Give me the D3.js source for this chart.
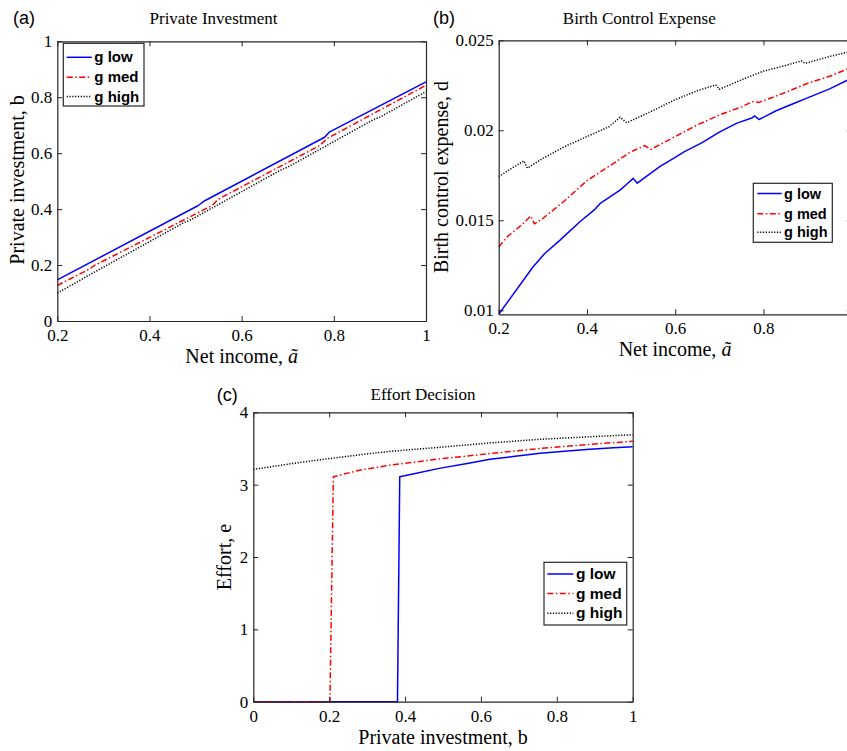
<!DOCTYPE html>
<html>
<head>
<meta charset="utf-8">
<script src="https://cdn.jsdelivr.net/npm/d3@7"></script>
<style>
  html, body { margin: 0; padding: 0; background: #fff; }
  svg { display: block; }
  .ax text { font-family: 'Liberation Serif', 'Times New Roman', serif; font-size: 17px; fill: #000; }
</style>
</head>
<body>
<svg id="chart" width="847" height="751"></svg>
<script>
// ---------------- DATA ----------------
const seriesNames = ["g low", "g med", "g high"];

// (a) Private investment vs net income
const aLowX  = [0.2, 0.505, 0.52, 0.78, 0.79, 1.0];
const aLowY  = [0.147, 0.412, 0.430, 0.657, 0.675, 0.855];
const aMedX  = [0.2, 0.27, 0.28, 0.535, 0.55, 0.77, 0.785, 1.0];
const aMedY  = [0.127, 0.186, 0.198, 0.412, 0.436, 0.628, 0.652, 0.843];
const aHighX = [0.2, 0.25, 0.26, 0.475, 0.49, 0.685, 0.70, 0.885, 0.90, 1.0];
const aHighY = [0.100, 0.146, 0.156, 0.352, 0.362, 0.540, 0.550, 0.719, 0.729, 0.820];

// (b) Birth control expense vs net income
const bLowX  = [0.2, 0.278, 0.305, 0.339, 0.384, 0.418, 0.43, 0.475, 0.49, 0.505, 0.514, 0.565, 0.6, 0.62, 0.66, 0.7, 0.74, 0.775, 0.78, 0.79, 0.83, 0.87, 0.9, 0.95, 1.0];
const bLowY  = [0.00978, 0.01242, 0.01317, 0.0139, 0.01492, 0.01561, 0.01594, 0.01668, 0.0170, 0.01733, 0.01706, 0.01798, 0.0185, 0.0188, 0.0193, 0.0199, 0.0204, 0.0207, 0.0208, 0.0206, 0.0211, 0.0215, 0.0218, 0.0223, 0.0229];
const bMedX  = [0.2, 0.22, 0.25, 0.273, 0.281, 0.3, 0.32, 0.35, 0.4, 0.45, 0.5, 0.531, 0.545, 0.6, 0.65, 0.7, 0.75, 0.775, 0.79, 0.85, 0.9, 0.95, 1.0];
const bMedY  = [0.01353, 0.0141, 0.0147, 0.01524, 0.0148, 0.0151, 0.0155, 0.0161, 0.0172, 0.0180, 0.01881, 0.01915, 0.01894, 0.01965, 0.0203, 0.02085, 0.0213, 0.02159, 0.02155, 0.0221, 0.02261, 0.0230, 0.0235];
const bHighX = [0.2, 0.23, 0.257, 0.265, 0.3, 0.35, 0.4, 0.45, 0.475, 0.49, 0.55, 0.6, 0.65, 0.692, 0.70, 0.75, 0.8, 0.85, 0.886, 0.895, 0.95, 1.0];
const bHighY = [0.01742, 0.0179, 0.0183, 0.0179, 0.01844, 0.0191, 0.01965, 0.0202, 0.02072, 0.02042, 0.0211, 0.0217, 0.0222, 0.02252, 0.02228, 0.0228, 0.02329, 0.0236, 0.02385, 0.02372, 0.0241, 0.0244];

// (c) Effort vs private investment
const cLowX  = [0, 0.38, 0.386, 0.43, 0.49, 0.56, 0.624, 0.69, 0.756, 0.82, 0.887, 0.95, 1.0];
const cLowY  = [0, 0, 3.11, 3.158, 3.225, 3.29, 3.35, 3.392, 3.433, 3.46, 3.489, 3.509, 3.525];
const cMedX  = [0, 0.202, 0.211, 0.28, 0.36, 0.49, 0.624, 0.756, 0.887, 1.0];
const cMedY  = [0, 0, 3.11, 3.20, 3.27, 3.355, 3.43, 3.50, 3.557, 3.60];
const cHighX = [0, 0.1, 0.2, 0.3, 0.36, 0.5, 0.62, 0.75, 0.88, 1.0];
const cHighY = [3.21, 3.29, 3.36, 3.425, 3.46, 3.52, 3.575, 3.625, 3.66, 3.69];

// tick values / labels
const aXTicks = [0.2, 0.4, 0.6, 0.8, 1];
const aXLabels = ["0.2", "0.4", "0.6", "0.8", "1"];
const aYTicks = [0, 0.2, 0.4, 0.6, 0.8, 1];
const aYLabels = ["0", "0.2", "0.4", "0.6", "0.8", "1"];
const bXTicks = [0.2, 0.4, 0.6, 0.8];
const bXLabels = ["0.2", "0.4", "0.6", "0.8"];
const bYTicks = [0.01, 0.015, 0.02, 0.025];
const bYLabels = ["0.01", "0.015", "0.02", "0.025"];
const cXTicks = [0, 0.2, 0.4, 0.6, 0.8, 1];
const cXLabels = ["0", "0.2", "0.4", "0.6", "0.8", "1"];
const cYTicks = [0, 1, 2, 3, 4];
const cYLabels = ["0", "1", "2", "3", "4"];

// ---------------- STYLE ----------------
const colors = ["#0000ff", "#ff0000", "#000000"];
const dashes = [null, "6,2.5,1.5,2.5", "1.2,1.6"];
const frameColor = "#262626";
const serif = "'Liberation Serif', 'Times New Roman', serif";
const sans = "'Liberation Sans', Arial, sans-serif";

const svg = d3.select("#chart");

function zip(xs, ys) { return xs.map((x, i) => ({x: x, y: ys[i]})); }

function panel(cfg) {
  const x = d3.scaleLinear().domain(cfg.xDomain).range([cfg.left, cfg.right]);
  const y = d3.scaleLinear().domain(cfg.yDomain).range([cfg.bottom, cfg.top]);
  const g = svg.append("g");

  // lines
  const line = d3.line().x(d => x(d.x)).y(d => y(d.y));
  cfg.series.forEach((s, i) => {
    g.append("path")
      .attr("d", line(zip(s[0], s[1])))
      .attr("fill", "none")
      .attr("stroke", colors[i])
      .attr("stroke-width", 1.5)
      .attr("stroke-dasharray", dashes[i])
      .attr("stroke-linejoin", "round");
  });

  // axes
  const fmtX = (d) => cfg.xLabels[cfg.xTicks.indexOf(d)];
  const fmtY = (d) => cfg.yLabels[cfg.yTicks.indexOf(d)];
  const axB = g.append("g").attr("class", "ax").attr("transform", `translate(0,${cfg.bottom})`)
    .call(d3.axisBottom(x).tickValues(cfg.xTicks).tickFormat(fmtX).tickSizeInner(-5).tickSizeOuter(0).tickPadding(8));
  const axT = g.append("g").attr("class", "ax").attr("transform", `translate(0,${cfg.top})`)
    .call(d3.axisTop(x).tickValues(cfg.xTicks).tickFormat("").tickSizeInner(-5).tickSizeOuter(0));
  const axL = g.append("g").attr("class", "ax").attr("transform", `translate(${cfg.left},0)`)
    .call(d3.axisLeft(y).tickValues(cfg.yTicks).tickFormat(fmtY).tickSizeInner(-5).tickSizeOuter(0).tickPadding(5));
  const axR = g.append("g").attr("class", "ax").attr("transform", `translate(${cfg.right},0)`)
    .call(d3.axisRight(y).tickValues(cfg.yTicks).tickFormat("").tickSizeInner(-5).tickSizeOuter(0));
  [axB, axT, axL, axR].forEach(a => {
    a.attr("font-family", serif).attr("font-size", 17);
    a.selectAll("path.domain").attr("stroke", frameColor).attr("stroke-width", 1.2);
    a.selectAll(".tick line").attr("stroke", frameColor).attr("stroke-width", 1);
  });

  // title
  g.append("text").attr("x", cfg.titleX).attr("y", cfg.titleY)
    .attr("text-anchor", "middle").attr("font-family", serif).attr("font-size", 17)
    .text(cfg.title);
  // panel letter
  g.append("text").attr("x", cfg.letterX).attr("y", cfg.letterY)
    .attr("font-family", sans).attr("font-size", 18).text(cfg.letter);

  // x label
  const xl = g.append("text").attr("x", cfg.xLabelX).attr("y", cfg.xLabelY)
    .attr("text-anchor", "middle").attr("font-family", serif).attr("font-size", 20);
  xl.append("tspan").text(cfg.xLabel[0]);
  if (cfg.xLabel[1]) xl.append("tspan").attr("font-style", "italic").text(cfg.xLabel[1]);

  // y label
  g.append("text")
    .attr("transform", `translate(${cfg.yLabelX},${cfg.yLabelY}) rotate(-90)`)
    .attr("text-anchor", "middle").attr("font-family", serif).attr("font-size", 20)
    .text(cfg.yLabel);

  // legend
  const L = cfg.legend;
  const lg = g.append("g");
  lg.append("rect").attr("x", L.x0).attr("y", L.y0).attr("width", L.x1 - L.x0).attr("height", L.y1 - L.y0)
    .attr("fill", "#fff").attr("stroke", frameColor).attr("stroke-width", 1.2);
  seriesNames.forEach((name, i) => {
    const ly = L.rows[i];
    lg.append("line").attr("x1", L.lx0).attr("x2", L.lx1).attr("y1", ly).attr("y2", ly)
      .attr("stroke", colors[i]).attr("stroke-width", 1.5).attr("stroke-dasharray", dashes[i]);
    lg.append("text").attr("x", L.tx).attr("y", ly + 5)
      .attr("font-family", sans).attr("font-weight", "bold").attr("font-size", L.fs)
      .text(name);
  });
}

panel({
  left: 57.3, right: 426, top: 41.3, bottom: 321,
  xDomain: [0.2, 1], yDomain: [0, 1],
  xTicks: aXTicks, xLabels: aXLabels, yTicks: aYTicks, yLabels: aYLabels,
  series: [[aLowX, aLowY], [aMedX, aMedY], [aHighX, aHighY]],
  title: "Private Investment", titleX: 213.5, titleY: 24,
  letter: "(a)", letterX: 13, letterY: 23.5,
  xLabel: ["Net income, ", "ã"], xLabelX: 241.7, xLabelY: 363,
  yLabel: "Private investment, b", yLabelX: 23.5, yLabelY: 180,
  legend: {x0: 63.3, x1: 144, y0: 43.3, y1: 106, rows: [57.3, 77.3, 96.5], lx0: 66.7, lx1: 91.7, tx: 94.3, fs: 15}
});

panel({
  left: 498.7, right: 851.7, top: 40.3, bottom: 314.3,
  xDomain: [0.2, 1], yDomain: [0.009778, 0.025],
  xTicks: bXTicks, xLabels: bXLabels, yTicks: bYTicks, yLabels: bYLabels,
  series: [[bLowX, bLowY], [bMedX, bMedY], [bHighX, bHighY]],
  title: "Birth Control Expense", titleX: 639.3, titleY: 24,
  letter: "(b)", letterX: 433, letterY: 23.5,
  xLabel: ["Net income, ", "ã"], xLabelX: 675, xLabelY: 356,
  yLabel: "Birth control expense, d", yLabelX: 448, yLabelY: 177,
  legend: {x0: 753.3, x1: 832.3, y0: 183.3, y1: 242.3, rows: [193.5, 213.7, 232.3], lx0: 757.3, lx1: 781.7, tx: 784, fs: 14.5}
});

panel({
  left: 253.3, right: 632.7, top: 412.3, bottom: 701.7,
  xDomain: [0, 1], yDomain: [0, 4],
  xTicks: cXTicks, xLabels: cXLabels, yTicks: cYTicks, yLabels: cYLabels,
  series: [[cLowX, cLowY], [cMedX, cMedY], [cHighX, cHighY]],
  title: "Effort Decision", titleX: 423, titleY: 400,
  letter: "(c)", letterX: 216.7, letterY: 400.5,
  xLabel: ["Private investment, b"], xLabelX: 443, xLabelY: 744,
  yLabel: "Effort, e", yLabelX: 230.5, yLabelY: 557,
  legend: {x0: 544, x1: 626.7, y0: 562.3, y1: 625, rows: [574, 593.5, 613.3], lx0: 547.3, lx1: 573.3, tx: 576, fs: 15.5}
});
</script>
</body>
</html>
